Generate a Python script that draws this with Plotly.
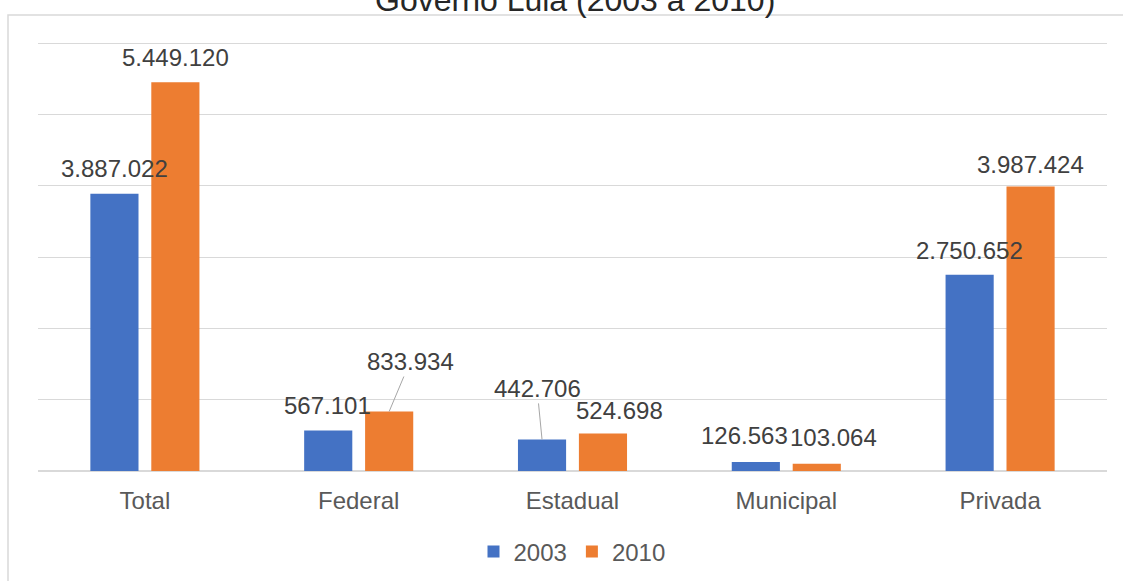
import plotly.graph_objects as go

# Matrículas por rede de ensino, 2003 e 2010
categorias = ["Total", "Federal", "Estadual", "Municipal", "Privada"]
anos = ["2003", "2010"]
valores_2003 = [3887022, 567101, 442706, 126563, 2750652]
valores_2010 = [5449120, 833934, 524698, 103064, 3987424]
cores = ["#4472C4", "#ED7D31"]

BARGAP = 0.43
SLOT = (1 - BARGAP) / 2  # width of one bar slot in category units

# plot area geometry in pixels; 6 milhões falls at y=43, the axis starts at y=471
PLOT_L, PLOT_R, PLOT_T, PLOT_B = 38, 1107, 39, 471
PW, PH = PLOT_R - PLOT_L, PLOT_B - PLOT_T
Y_MAX = 6e6 * PH / (PLOT_B - 43)


def px_x(p):
    return (p - PLOT_L) / PW


def px_y(p):
    return (PLOT_B - p) / PH


def fmt(v):
    return f"{v:,}".replace(",", ".")


fig = go.Figure()
for ano, vals, cor in zip(anos, [valores_2003, valores_2010], cores):
    fig.add_trace(go.Bar(
        x=categorias, y=vals, name=ano,
        marker=dict(color=cor, line=dict(width=0)),
    ))

# Data labels: (x pixel shift, y pixel shift) above each bar top; a few have leader lines
desloc_2003 = [(0, 25), (-1, 25), None, (-11, 26), (0, 24)]
desloc_2010 = [(0, 25), None, (17, 23), (17, 26), (0, 22)]
guias = {  # (serie, categoria): (ax, ay) offset of text from bar top, drawn with a leader line
    (0, 2): (-5, -51),
    (1, 1): (21, -50),
}

anns = []
for s, (vals, desl) in enumerate([(valores_2003, desloc_2003), (valores_2010, desloc_2010)]):
    off = -SLOT / 2 if s == 0 else SLOT / 2
    for i, v in enumerate(vals):
        xpos = i + off
        if (s, i) in guias:
            ax, ay = guias[(s, i)]
            anns.append(dict(
                x=xpos, y=v, xref="x", yref="y", text=fmt(v),
                showarrow=True, arrowhead=0, arrowwidth=1, arrowcolor="#a6a6a6",
                ax=ax, ay=ay, standoff=0,
                font=dict(size=24, color="#404040"),
            ))
        else:
            dx, dy = desl[i]
            anns.append(dict(
                x=xpos, y=v, xref="x", yref="y", text=fmt(v),
                showarrow=False, xanchor="center", yanchor="middle",
                xshift=dx, yshift=dy,
                font=dict(size=24, color="#404040"),
            ))

anns.append(dict(
    x=px_x(575), y=px_y(20), xref="paper", yref="paper",
    text="Governo Lula (2003 a 2010)", showarrow=False,
    xanchor="center", yanchor="bottom",
    font=dict(size=32, color="#262626"),
))

fig.update_layout(
    width=1123, height=581,
    margin=dict(l=PLOT_L, r=1123 - PLOT_R, t=PLOT_T, b=581 - PLOT_B, autoexpand=False),
    paper_bgcolor="white", plot_bgcolor="white",
    font=dict(family="Liberation Sans, Arial, sans-serif", size=24, color="#595959"),
    barmode="group", bargap=BARGAP, bargroupgap=0.21,
    showlegend=True,
    legend=dict(
        orientation="h", x=px_x(572), xanchor="center",
        y=px_y(552), yanchor="middle",
        font=dict(size=24, color="#595959"),
        itemwidth=30, tracegroupgap=0,
    ),
    annotations=anns,
    shapes=[dict(
        type="rect", xref="paper", yref="paper",
        x0=px_x(8), x1=px_x(1200), y0=px_y(700), y1=px_y(15),
        line=dict(color="#d9d9d9", width=1.5), fillcolor="rgba(0,0,0,0)",
        layer="below",
    )],
)
fig.update_xaxes(
    type="category", showgrid=False, showline=False, zeroline=False,
    ticks="outside", ticklen=8, tickcolor="white", automargin=False,
    tickfont=dict(size=24, color="#595959"),
)
fig.update_yaxes(
    range=[0, Y_MAX], tickvals=[1e6, 2e6, 3e6, 4e6, 5e6, 6e6],
    showticklabels=False, automargin=False,
    showgrid=True, gridcolor="#d9d9d9", gridwidth=1.3,
    zeroline=True, zerolinecolor="#d9d9d9", zerolinewidth=2,
    showline=False,
)

fig.write_html("out.html")
